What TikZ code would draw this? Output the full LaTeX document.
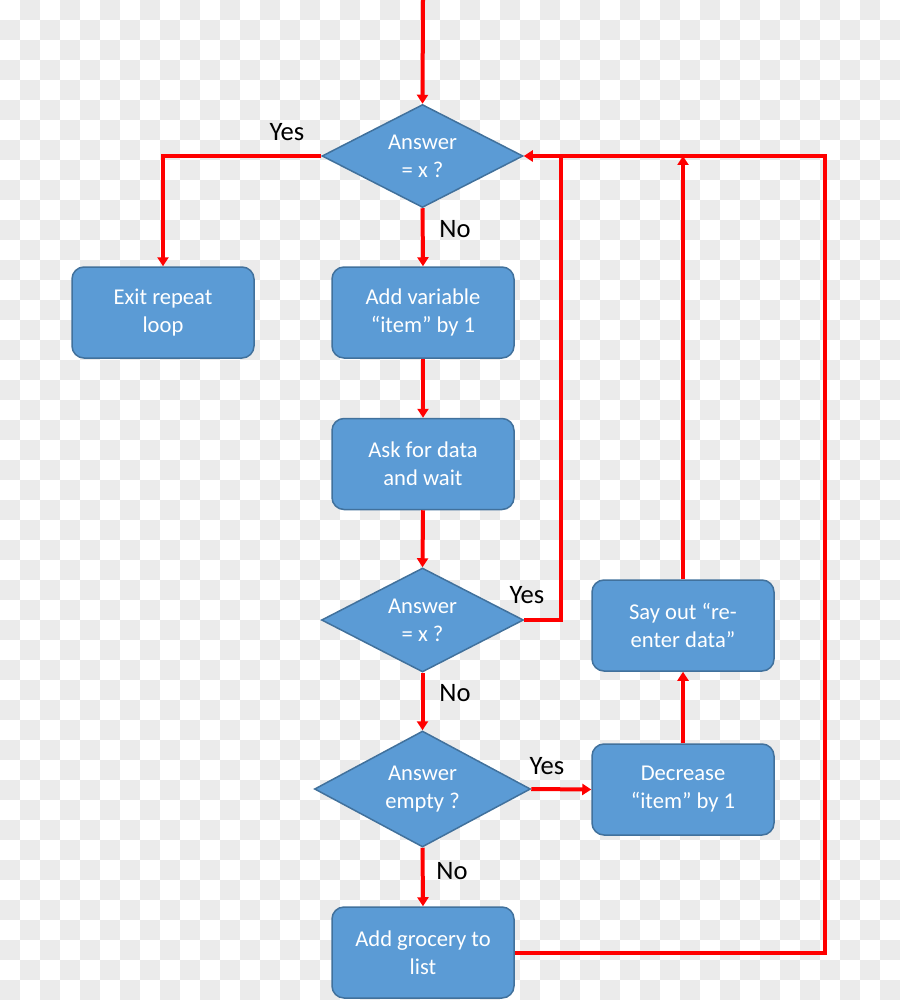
\documentclass[tikz,border=0pt]{standalone}
\usepackage{fontspec}
\setmainfont{Carlito}
\usetikzlibrary{arrows.meta,shapes.geometric}
\definecolor{boxfill}{HTML}{5B9BD5}
\definecolor{boxline}{HTML}{41719C}
\definecolor{flow}{HTML}{FF0000}
\definecolor{checker}{HTML}{EBEBEB}

\begin{document}
\begin{tikzpicture}[x=0.5pt,y=-0.5pt,
  stepbox/.style={draw=boxline,fill=boxfill,line width=0.75pt,rounded corners=6pt,
    minimum width=91pt,minimum height=45.5pt,text=white,align=center,
    font=\fontsize{11.3}{14}\selectfont},
  test/.style={diamond,shape aspect=2,draw=boxline,fill=boxfill,line width=0.75pt,inner sep=0pt,
    text=white,align=center,font=\fontsize{11.3}{14}\selectfont},
  lbl/.style={font=\fontsize{13.3}{16}\selectfont},
  flowline/.style={draw=flow,line width=2pt},
  flowarrow/.style={flowline,-{Triangle[length=4.5pt,width=5.5pt]}}]
  \useasboundingbox (0,0) rectangle (900,1000);
  % transparent background squares
  \foreach \r in {0,40,...,960} {
    \foreach \c in {20,60,...,860} \fill[checker] (\c,\r) rectangle ++(20,20);
    \foreach \c in {0,40,...,880} \fill[checker] (\c,\r+20) rectangle ++(20,20);
  }

  % decisions
  \node[test,minimum width=100.5pt,minimum height=51.5pt] (q1) at (422.5,156) {Answer\\= x ?};
  \node[test,minimum width=101pt,minimum height=52pt] (q2) at (422.5,620) {Answer\\= x ?};
  \node[test,minimum width=108pt,minimum height=58pt] (q3) at (422.5,789) {Answer\\empty ?};

  % steps
  \node[stepbox] (exit) at (163,312.5) {Exit repeat\\loop};
  \node[stepbox] (incr) at (423,312.5) {Add variable\\“item” by 1};
  \node[stepbox] (ask) at (423,464) {Ask for data\\and wait};
  \node[stepbox] (say) at (683,625.5) {Say out “re-\\enter data”};
  \node[stepbox] (dec) at (683,789.5) {Decrease\\“item” by 1};
  \node[stepbox] (add) at (423,952.5) {Add grocery to\\list};

  % labels
  \node[lbl] (y1) at (287,132) {Yes};
  \node[lbl] (n1) at (455,229) {No};
  \node[lbl] (y2) at (527,595) {Yes};
  \node[lbl] (n2) at (455,693) {No};
  \node[lbl] (y3) at (547,766) {Yes};
  \node[lbl] (n3) at (452,871) {No};

  \coordinate (start) at (423,0);
  \coordinate (yesbus) at (561,156);
  \coordinate (outer) at (825,156);

  \draw[flowarrow] (start) -- (q1.north);
  \draw[flowarrow] (q1.west) -| (exit.north);
  \draw[flowarrow] (q1.south) -- (incr.north);
  \draw[flowarrow] (incr.south) -- (ask.north);
  \draw[flowarrow] (ask.south) -- (q2.north);
  \draw[flowarrow] (q2.south) -- (q3.north);
  \draw[flowarrow] (q3.south) -- (add.north);
  \draw[flowarrow] (q3.east) -- (dec.west);
  \draw[flowarrow] (dec.north) -- (say.south);
  \draw[flowline] (add.east) -| (outer) -- (yesbus);
  \draw[flowarrow] (q2.east) -| (yesbus) -- (q1.east);
  \draw[flowarrow] (say.north) -- (say.north |- q1.east);
\end{tikzpicture}
\end{document}
